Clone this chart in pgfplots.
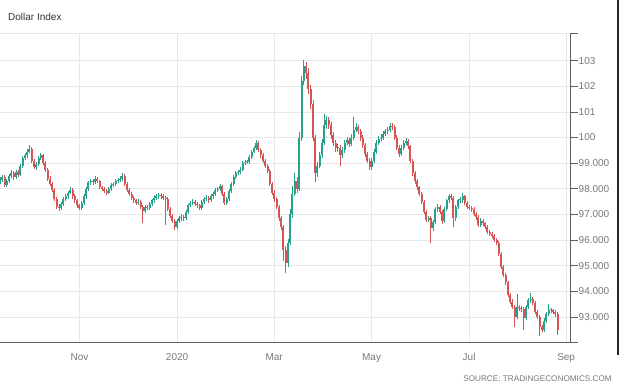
\documentclass[border=0pt]{standalone}
\usepackage{pgfplots}
\pgfplotsset{compat=1.18}
\usepackage{pgfplotstable}
\usepackage{fontspec}
\setmainfont{Liberation Sans}
\definecolor{upc}{RGB}{40,160,138}
\definecolor{dnc}{RGB}{215,84,84}
\definecolor{gridc}{RGB}{232,232,232}
\definecolor{axc}{RGB}{95,95,95}
\definecolor{lblc}{RGB}{120,120,120}
\pgfplotstableread{
x o h l c
0 98.25 98.45 98.18 98.35
1 98.35 98.55 98.28 98.45
2 98.45 98.52 98.05 98.15
3 98.15 98.40 98.08 98.30
4 98.30 98.58 98.22 98.50
5 98.50 98.72 98.42 98.60
6 98.60 98.68 98.35 98.45
7 98.45 98.75 98.38 98.65
8 98.65 98.72 98.45 98.55
9 98.55 98.98 98.48 98.90
10 98.90 99.28 98.82 99.20
11 99.20 99.40 99.12 99.30
12 99.30 99.55 99.22 99.45
13 99.45 99.72 99.38 99.55
14 99.55 99.62 99.02 99.10
15 99.10 99.18 98.78 98.85
16 98.85 99.05 98.75 98.95
17 98.95 99.28 98.88 99.20
18 99.20 99.38 99.12 99.30
19 99.30 99.36 98.92 99.00
20 99.00 99.08 98.66 98.75
21 98.75 98.82 98.32 98.40
22 98.40 98.48 98.12 98.20
23 98.20 98.28 97.86 97.95
24 97.95 98.02 97.52 97.60
25 97.60 97.68 97.20 97.30
26 97.30 97.40 97.15 97.25
27 97.25 97.48 97.18 97.40
28 97.40 97.68 97.32 97.60
29 97.60 97.80 97.52 97.70
30 97.70 97.92 97.62 97.85
31 97.85 98.05 97.78 97.95
32 97.95 98.02 97.62 97.70
33 97.70 97.78 97.46 97.55
34 97.55 97.62 97.26 97.35
35 97.35 97.42 97.16 97.25
36 97.25 97.52 97.18 97.45
37 97.45 97.78 97.38 97.70
38 97.70 98.08 97.62 98.00
39 98.00 98.32 97.92 98.25
40 98.25 98.40 98.16 98.30
41 98.30 98.38 98.16 98.25
42 98.25 98.48 98.18 98.38
43 98.38 98.45 98.22 98.30
44 98.30 98.36 97.98 98.05
45 98.05 98.12 97.92 98.00
46 98.00 98.08 97.82 97.90
47 97.90 97.98 97.76 97.85
48 97.85 98.08 97.78 98.00
49 98.00 98.22 97.92 98.15
50 98.15 98.28 98.08 98.20
51 98.20 98.38 98.12 98.30
52 98.30 98.44 98.22 98.35
53 98.35 98.48 98.28 98.40
54 98.40 98.60 98.32 98.50
55 98.50 98.56 98.12 98.20
56 98.20 98.26 97.86 97.95
57 97.95 98.02 97.72 97.80
58 97.80 97.88 97.56 97.65
59 97.65 97.72 97.46 97.55
60 97.55 97.62 97.38 97.45
61 97.45 97.60 97.36 97.50
62 97.50 97.56 97.22 97.30
63 97.30 97.38 96.66 97.15
64 97.15 97.38 97.06 97.30
65 97.30 97.38 97.16 97.25
66 97.25 97.48 97.18 97.40
67 97.40 97.62 97.32 97.55
68 97.55 97.74 97.46 97.65
69 97.65 97.80 97.58 97.70
70 97.70 97.84 97.62 97.75
71 97.75 97.82 97.62 97.70
72 97.70 97.78 97.56 97.65
73 97.65 97.72 96.60 97.60
74 97.60 97.66 97.12 97.20
75 97.20 97.28 96.86 96.95
76 96.95 97.02 96.66 96.75
77 96.75 96.82 96.40 96.50
78 96.50 96.82 96.42 96.75
79 96.75 96.94 96.68 96.85
80 96.85 97.00 96.76 96.90
81 96.90 96.98 96.76 96.85
82 96.85 97.18 96.78 97.10
83 97.10 97.42 97.02 97.35
84 97.35 97.54 97.28 97.45
85 97.45 97.60 97.38 97.50
86 97.50 97.58 97.32 97.40
87 97.40 97.48 97.26 97.35
88 97.35 97.42 97.16 97.25
89 97.25 97.58 97.18 97.50
90 97.50 97.68 97.42 97.60
91 97.60 97.74 97.52 97.65
92 97.65 97.72 97.46 97.55
93 97.55 97.78 97.48 97.70
94 97.70 97.88 97.62 97.80
95 97.80 98.02 97.72 97.95
96 97.95 98.08 97.86 98.00
97 98.00 98.18 97.92 98.10
98 98.10 98.16 97.72 97.80
99 97.80 97.86 97.36 97.45
100 97.45 97.68 97.38 97.60
101 97.60 97.98 97.52 97.90
102 97.90 98.28 97.82 98.20
103 98.20 98.52 98.12 98.45
104 98.45 98.68 98.38 98.60
105 98.60 98.74 98.52 98.65
106 98.65 98.84 98.56 98.75
107 98.75 99.08 98.68 99.00
108 99.00 99.14 98.92 99.05
109 99.05 99.14 98.96 99.05
110 99.05 99.32 98.98 99.25
111 99.25 99.52 99.18 99.45
112 99.45 99.68 99.38 99.60
113 99.60 99.92 99.52 99.80
114 99.80 99.86 99.42 99.50
115 99.50 99.58 99.22 99.30
116 99.30 99.38 99.02 99.10
117 99.10 99.18 98.82 98.90
118 98.90 98.98 98.60 98.70
119 98.70 98.76 98.12 98.20
120 98.20 98.28 97.76 97.85
121 97.85 97.94 97.50 97.60
122 97.60 97.68 97.20 97.30
123 97.30 97.38 96.74 96.85
124 96.85 96.94 96.38 96.50
125 96.50 96.60 95.20 95.60
126 95.60 95.75 94.70 95.10
127 95.10 96.05 94.95 95.90
128 95.90 97.20 95.80 97.00
129 97.00 98.10 96.85 97.80
130 97.80 98.60 97.70 98.30
131 98.30 98.45 97.85 98.00
132 98.00 100.20 97.90 100.00
133 100.00 102.40 99.85 102.20
134 102.20 103.02 102.05 102.80
135 102.80 102.95 102.30 102.50
136 102.50 102.70 101.70 101.90
137 101.90 102.05 101.10 101.30
138 101.30 101.45 99.85 100.00
139 100.00 100.10 98.25 98.60
140 98.60 99.05 98.45 98.90
141 98.90 99.45 98.80 99.30
142 99.30 99.95 99.20 99.80
143 99.80 100.92 99.70 100.50
144 100.50 100.85 100.35 100.70
145 100.70 100.80 100.35 100.50
146 100.50 100.60 99.95 100.10
147 100.10 100.20 99.65 99.80
148 99.80 99.90 99.45 99.60
149 99.60 99.75 99.45 99.60
150 99.60 99.70 98.90 99.30
151 99.30 99.62 99.20 99.50
152 99.50 99.92 99.40 99.80
153 99.80 100.02 99.70 99.90
154 99.90 100.00 99.62 99.75
155 99.75 100.12 99.65 100.00
156 100.00 100.80 99.90 100.30
157 100.30 100.55 100.20 100.40
158 100.40 100.50 100.12 100.25
159 100.25 100.35 99.88 100.00
160 100.00 100.10 99.60 99.70
161 99.70 99.80 99.25 99.35
162 99.35 99.45 99.00 99.10
163 99.10 99.20 98.72 98.85
164 98.85 99.22 98.75 99.10
165 99.10 99.55 99.00 99.45
166 99.45 99.90 99.35 99.80
167 99.80 100.05 99.70 99.95
168 99.95 100.12 99.85 100.00
169 100.00 100.25 99.90 100.15
170 100.15 100.35 100.05 100.25
171 100.25 100.42 100.15 100.30
172 100.30 100.58 100.20 100.45
173 100.45 100.55 100.30 100.40
174 100.40 100.48 99.90 100.00
175 100.00 100.08 99.50 99.60
176 99.60 99.70 99.25 99.35
177 99.35 99.70 99.28 99.60
178 99.60 99.90 99.52 99.80
179 99.80 99.98 99.72 99.85
180 99.85 99.95 99.55 99.65
181 99.65 99.72 99.00 99.10
182 99.10 99.18 98.50 98.60
183 98.60 98.68 98.20 98.30
184 98.30 98.38 97.95 98.05
185 98.05 98.12 97.70 97.80
186 97.80 97.88 97.40 97.50
187 97.50 97.58 97.00 97.10
188 97.10 97.18 96.70 96.80
189 96.80 96.95 96.70 96.85
190 96.85 96.92 95.90 96.45
191 96.45 96.80 96.35 96.70
192 96.70 97.30 96.62 97.20
193 97.20 97.40 97.10 97.30
194 97.30 97.38 97.00 97.10
195 97.10 97.18 96.62 96.75
196 96.75 97.28 96.68 97.20
197 97.20 97.62 97.12 97.55
198 97.55 97.80 97.46 97.70
199 97.70 97.78 97.56 97.65
200 97.65 97.72 96.50 96.85
201 96.85 97.38 96.76 97.30
202 97.30 97.62 97.22 97.55
203 97.55 97.66 97.45 97.55
204 97.55 97.85 97.46 97.70
205 97.70 97.76 97.36 97.45
206 97.45 97.52 97.22 97.30
207 97.30 97.38 97.16 97.25
208 97.25 97.32 97.10 97.20
209 97.20 97.28 96.92 97.00
210 97.00 97.08 96.80 96.90
211 96.90 96.96 96.50 96.60
212 96.60 96.84 96.52 96.75
213 96.75 96.82 96.56 96.65
214 96.65 96.72 96.42 96.50
215 96.50 96.58 96.22 96.30
216 96.30 96.38 96.16 96.25
217 96.25 96.32 96.06 96.15
218 96.15 96.22 95.92 96.00
219 96.00 96.08 95.80 95.90
220 95.90 95.96 95.36 95.45
221 95.45 95.52 94.86 94.95
222 94.95 95.02 94.56 94.65
223 94.65 94.72 94.26 94.35
224 94.35 94.42 93.76 93.85
225 93.85 93.92 93.50 93.60
226 93.60 93.68 93.30 93.40
227 93.40 93.48 92.60 93.00
228 93.00 93.90 92.92 93.40
229 93.40 93.48 93.24 93.35
230 93.35 93.44 93.20 93.30
231 93.30 93.38 92.50 92.95
232 92.95 93.48 92.86 93.40
233 93.40 93.74 93.32 93.65
234 93.65 93.95 93.56 93.70
235 93.70 93.78 93.46 93.55
236 93.55 93.62 93.10 93.20
237 93.20 93.28 92.90 93.00
238 93.00 93.08 92.25 92.60
239 92.60 92.68 92.40 92.50
240 92.50 92.94 92.42 92.85
241 92.85 93.18 92.76 93.10
242 93.10 93.50 93.02 93.25
243 93.25 93.36 93.14 93.25
244 93.25 93.32 93.10 93.20
245 93.20 93.28 93.00 93.10
246 93.10 93.18 92.30 92.50
}\dxy

\begin{document}
\begin{tikzpicture}[x=1pt,y=1pt]
\useasboundingbox (0pt,0pt) rectangle (620pt,387pt);
\begin{axis}[
  at={(0pt,45pt)}, anchor=south west,
  scale only axis, width=570pt, height=309pt,
  xmin=0, xmax=251.4, ymin=92.02, ymax=104.08,
  axis x line*=bottom, axis y line*=right,
  axis line style={-, axc, line width=0.7pt},
  xtick={35.07,78.1,120.9,163.9,206.9,249.7},
  xticklabels={Nov,2020,Mar,May,Jul,Sep},
  ytick={93,94,95,96,97,98,99,100,101,102,103},
  yticklabels={93.000,94.000,95.000,96.000,97.000,98.000,99.000,100,101,102,103},
  xtick style={draw=none},
  ytick style={axc, line width=0.6pt},
  tick align=outside, major tick length=7.5pt,
  grid=major, major grid style={gridc, line width=0.6pt},
  yticklabel style={font=\fontsize{10}{12}\selectfont, text=lblc, inner sep=1pt},
  xticklabel style={font=\fontsize{10}{12}\selectfont, text=lblc, inner sep=1pt, yshift=-3pt},
]
% wicks
\addplot[draw=none, mark=none, forget plot,
  restrict expr to domain={\thisrow{c}-\thisrow{o}}{0:50},
  error bars/.cd, y dir=plus, y explicit, error mark=none,
  error bar style={draw=upc, line width=0.7pt}]
  table[x=x, y=l, y error plus expr={\thisrow{h}-\thisrow{l}}, y error minus expr=0] {\dxy};
\addplot[draw=none, mark=none, forget plot,
  restrict expr to domain={\thisrow{o}-\thisrow{c}}{0.001:50},
  error bars/.cd, y dir=plus, y explicit, error mark=none,
  error bar style={draw=dnc, line width=0.7pt}]
  table[x=x, y=l, y error plus expr={\thisrow{h}-\thisrow{l}}, y error minus expr=0] {\dxy};
% bodies
\addplot[draw=none, mark=none, forget plot,
  restrict expr to domain={\thisrow{c}-\thisrow{o}}{0:50},
  error bars/.cd, y dir=plus, y explicit, error mark=none,
  error bar style={draw=upc, line width=2.0pt}]
  table[x=x, y=o, y error plus expr={max(\thisrow{c}-\thisrow{o},0.04)}, y error minus expr=0] {\dxy};
\addplot[draw=none, mark=none, forget plot,
  restrict expr to domain={\thisrow{o}-\thisrow{c}}{0.001:50},
  error bars/.cd, y dir=plus, y explicit, error mark=none,
  error bar style={draw=dnc, line width=2.0pt}]
  table[x=x, y=c, y error plus expr={max(\thisrow{o}-\thisrow{c},0.04)}, y error minus expr=0] {\dxy};
\end{axis}
\draw[gridc, line width=0.6pt] (0pt,354pt) -- (570pt,354pt);
\draw[axc, line width=0.7pt] (570pt,354pt) -- (578pt,354pt);
\draw[axc, line width=0.7pt] (570pt,45pt) -- (578pt,45pt);
\fill[black!85] (616.5pt,32pt) rectangle (618.5pt,387pt);
\node[anchor=west, inner sep=0pt, font=\fontsize{10}{12}\selectfont, text=black!80] at (8pt,370pt) {Dollar Index};
\node[anchor=east, inner sep=0pt, font=\fontsize{8.2}{10}\selectfont, text=lblc] at (612pt,8pt) {SOURCE: TRADINGECONOMICS.COM};
\end{tikzpicture}
\end{document}
